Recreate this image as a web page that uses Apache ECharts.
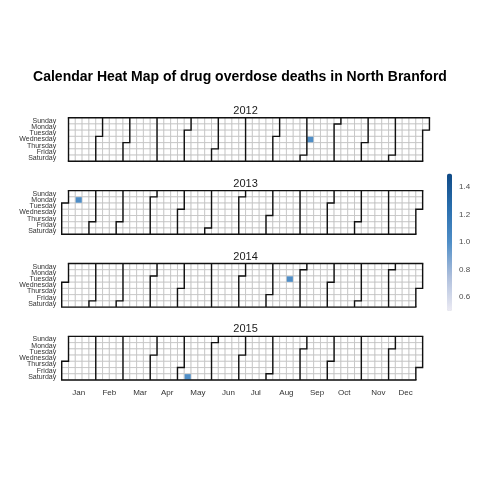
<!DOCTYPE html>
<html>
<head>
<meta charset="utf-8">
<script src="https://cdn.jsdelivr.net/npm/echarts@6/dist/echarts.min.js"></script>
<style>html,body{margin:0;padding:0;background:#fff}#c{width:480px;height:480px}</style>
</head>
<body>
<div id="c"></div>
<script>
// ---- data ----
var years = [2012, 2013, 2014, 2015];
var deathDates = ['2012-09-05', '2013-01-14', '2014-08-19', '2015-05-09'];
var deathCounts = [1, 1, 1, 1];
var dayNames = ['Sunday', 'Monday', 'Tuesday', 'Wednesday', 'Thursday', 'Friday', 'Saturday'];
var monthNames = ['Jan', 'Feb', 'Mar', 'Apr', 'May', 'Jun', 'Jul', 'Aug', 'Sep', 'Oct', 'Nov', 'Dec'];
var colorbarTicks = [0.6, 0.8, 1.0, 1.2, 1.4];
var colorMin = 0.5, colorMax = 1.5;
var titleText = 'Calendar Heat Map of drug overdose deaths in North Branford';

// ---- layout ----
var cellW = 6.81, cellH = 6.23;
var gridLeft = 61.7;      // x of week column 0 (shared across years)
var firstTop = 117.7, yearStep = 72.9;
var fontFam = '"Liberation Sans", Arial, Helvetica, sans-serif';

function weekOffset(y) {
  // %U style week index of Jan 1 (1 if year starts on Sunday, else 0)
  return new Date(y, 0, 1).getDay() === 0 ? 1 : 0;
}

var calendars = [], series = [], titles = [];
titles.push({
  text: titleText, left: 'center', top: 70, padding: 0,
  textStyle: { fontFamily: fontFam, fontSize: 14, fontWeight: 'bold', color: '#000' }
});
years.forEach(function (y, i) {
  var off = weekOffset(y);
  var top = firstTop + i * yearStep;
  calendars.push({
    range: String(y),
    orient: 'horizontal',
    left: gridLeft + off * cellW,
    top: top,
    cellSize: [cellW, cellH],
    splitLine: { show: true, lineStyle: { color: '#111', width: 1.4 } },
    itemStyle: { color: '#fff', borderColor: '#bdbdbd', borderWidth: 0.7 },
    dayLabel: {
      firstDay: 0, nameMap: dayNames, position: 'start', margin: 5.5 + off * cellW,
      fontSize: 7, color: '#333', fontFamily: fontFam
    },
    monthLabel: {
      show: i === years.length - 1, nameMap: monthNames, position: 'end', align: 'center',
      margin: 9, fontSize: 8, color: '#333', fontFamily: fontFam
    },
    yearLabel: { show: false }
  });
  titles.push({
    text: String(y), left: gridLeft + 27 * cellW, top: top - 12.5, padding: 0, textAlign: 'center',
    textStyle: { fontFamily: fontFam, fontSize: 11, fontWeight: 'normal', color: '#1a1a1a' }
  });
  var d = [];
  deathDates.forEach(function (dt, k) {
    if (dt.slice(0, 4) === String(y)) d.push([dt, deathCounts[k]]);
  });
  series.push({
    type: 'heatmap', coordinateSystem: 'calendar', calendarIndex: i, data: d,
    itemStyle: { borderWidth: 0 }
  });
});

var chart = echarts.init(document.getElementById('c'), null, { renderer: 'canvas' });
chart.setOption({
  backgroundColor: '#fff',
  animation: false,
  title: titles,
  tooltip: { show: false },
  calendar: calendars,
  visualMap: {
    type: 'continuous', min: colorMin, max: colorMax, calculable: false,
    orient: 'vertical', left: 447, top: 173.5, itemWidth: 5, itemHeight: 137.5,
    padding: 0, text: null, showLabel: false, hoverLink: false,
    inRange: { color: ['#ecebf4', '#aebfdc', '#4f8ec7', '#2a6fae', '#0f4a86'] }
  },
  grid: { left: 447, top: 173.5, width: 5, height: 137.5 },
  xAxis: { type: 'value', show: false, min: 0, max: 1 },
  yAxis: {
    type: 'value', min: colorMin, max: colorMax, position: 'right',
    axisLine: { show: false }, axisTick: { show: false }, splitLine: { show: false },
    axisLabel: {
      customValues: colorbarTicks, margin: 7, fontSize: 8, color: '#4d4d4d', fontFamily: fontFam,
      formatter: function (v) { return Number(v).toFixed(1); }
    }
  },
  series: series
});
</script>
</body>
</html>
